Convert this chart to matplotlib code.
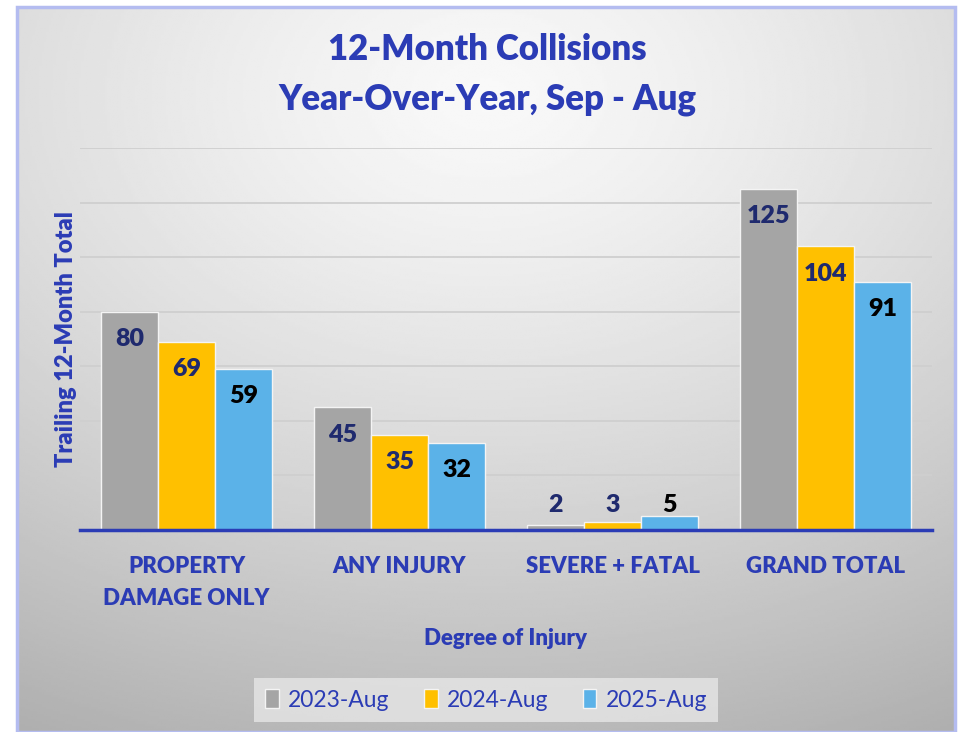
import numpy as np
import matplotlib
matplotlib.use("Agg")
import matplotlib.pyplot as plt
from matplotlib.patches import Rectangle

# Chart data
categories = ["PROPERTY\nDAMAGE ONLY", "ANY INJURY", "SEVERE + FATAL", "GRAND TOTAL"]
series_names = ["2023-Aug", "2024-Aug", "2025-Aug"]
values_2023 = [80, 45, 2, 125]
values_2024 = [69, 35, 3, 104]
values_2025 = [59, 32, 5, 91]

bar_colors = ["#A5A5A5", "#FFC000", "#5BB2E8"]
label_colors = ["#1F2A6E", "#1F2A6E", "#000000"]
blue = "#2B3CB5"
heavy = "heavy"

plt.rcParams["font.family"] = ["Lato", "DejaVu Sans"]

fig = plt.figure(figsize=(9.6, 7.32), dpi=100)
fig.patch.set_facecolor("white")

# gradient background panel with thin border
bg = fig.add_axes([17 / 960, 0, (955 - 17) / 960, (732 - 7) / 732], zorder=-5)
yy, xx = np.mgrid[0:1:300j, 0:1:400j]
dist = np.sqrt(((xx - 0.5) * 1.0) ** 2 + ((yy - 0.12) * 1.1) ** 2)
shade = 0.975 - 0.26 * np.clip(dist, 0, 1.2) ** 1.3
bg.imshow(shade, cmap="gray", vmin=0, vmax=1, aspect="auto", extent=[0, 1, 1, 0])
bg.set_xlim(0, 1)
bg.set_ylim(1, 0)
bg.axis("off")
bg.add_patch(Rectangle((0, 0), 1, 1, transform=bg.transAxes, fill=False,
                       edgecolor="#B4BCF0", linewidth=2.5, clip_on=False))

ax = fig.add_axes([80 / 960, 1 - 530 / 732, (932 - 80) / 960, (530 - 148) / 732])
ax.patch.set_alpha(0)

x = np.arange(len(categories))
width = 0.268
all_values = [values_2023, values_2024, values_2025]
for i, vals in enumerate(all_values):
    pos = x + (i - 1) * width
    ax.bar(pos, vals, width, color=bar_colors[i], edgecolor="#F4F4F4",
           linewidth=1.0, label=series_names[i], zorder=3)
    for p, v in zip(pos, vals):
        if v > 10:
            ax.text(p, v - 10, str(v), ha="center", va="center", fontsize=18,
                    fontweight=heavy, color=label_colors[i], zorder=4)
        else:
            ax.text(p, max(v + 4, 9), str(v), ha="center", va="center", fontsize=18,
                    fontweight=heavy, color=label_colors[i], zorder=4)

ax.set_ylim(0, 140)
ax.set_xlim(-0.5, len(categories) - 0.5)
ax.set_yticks(np.arange(20, 141, 20))
ax.yaxis.grid(True, color="#CFCFCF", linewidth=1.3, zorder=0)
ax.tick_params(axis="y", length=0, labelleft=False)
ax.tick_params(axis="x", length=0, pad=19)
ax.set_xticks(x)
ax.set_xticklabels(categories, fontsize=16, fontweight=heavy, color=blue, linespacing=1.6)
for s in ["top", "right", "left"]:
    ax.spines[s].set_visible(False)
ax.spines["bottom"].set_color(blue)
ax.spines["bottom"].set_linewidth(2.5)
ax.spines["bottom"].set_zorder(5)

ax.set_ylabel("Trailing 12-Month Total", fontsize=17, fontweight=heavy, color=blue, labelpad=2)
ax.set_xlabel("Degree of Injury", fontsize=16, fontweight=heavy, color=blue, labelpad=14)

fig.text(487 / 960, 1 - 50 / 732, "12-Month Collisions", ha="center", va="center",
         fontsize=25, fontweight=heavy, color=blue)
fig.text(487 / 960, 1 - 100 / 732, "Year-Over-Year, Sep - Aug", ha="center", va="center",
         fontsize=25, fontweight=heavy, color=blue)

leg = fig.legend(loc="center", bbox_to_anchor=(486 / 960, 1 - 700 / 732), ncol=3,
                 frameon=True, fontsize=16.5, handlelength=0.6, handleheight=0.9,
                 handletextpad=0.4, columnspacing=1.5, borderpad=0.5)
leg.get_frame().set_facecolor("#E6E6E6")
leg.get_frame().set_edgecolor("none")
leg.get_frame().set_boxstyle("square", pad=0)
for t in leg.get_texts():
    t.set_color(blue)

fig.savefig("out.png", dpi=100, facecolor=fig.get_facecolor())
